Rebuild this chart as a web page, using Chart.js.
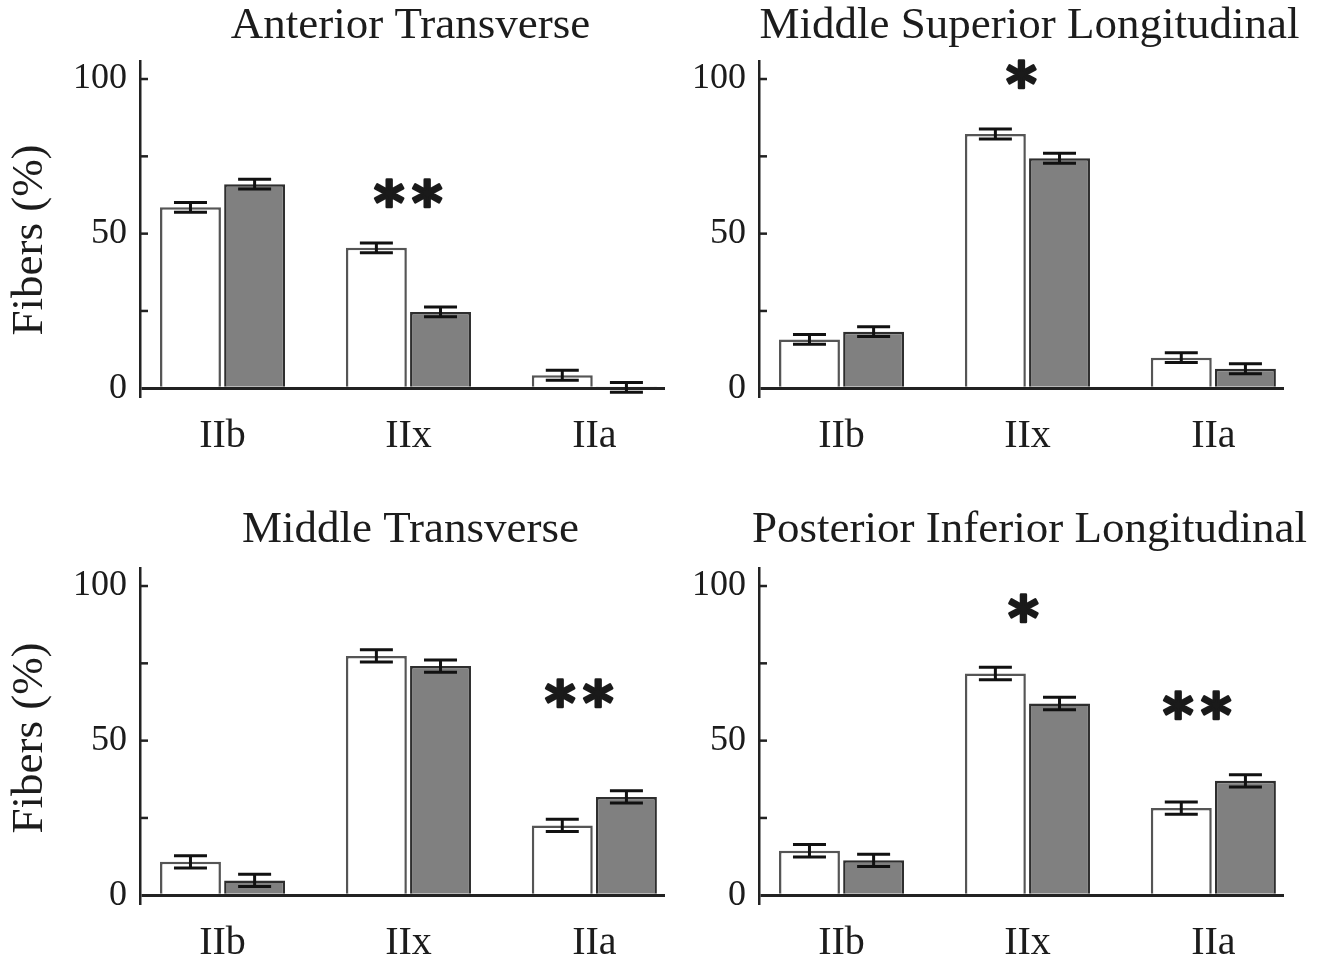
<!DOCTYPE html>
<html>
<head>
<meta charset="utf-8">
<script src="https://cdn.jsdelivr.net/npm/chart.js@4.4.1/dist/chart.umd.min.js"></script>
<style>
  html, body { margin: 0; padding: 0; background: #ffffff; width: 1331px; height: 956px; overflow: hidden; }
  #wrap { position: relative; width: 1331px; height: 956px; }
  canvas { position: absolute; }
</style>
</head>
<body>
<div id="wrap">
  <canvas id="p0" width="670" height="460"></canvas>
  <canvas id="p1" width="712" height="460"></canvas>
  <canvas id="p2" width="670" height="460"></canvas>
  <canvas id="p3" width="712" height="460"></canvas>
</div>
<script>
// ---------------- DATA ----------------
const categories = ['IIb', 'IIx', 'IIa'];
const panelTitles = ['Anterior Transverse', 'Middle Superior Longitudinal', 'Middle Transverse', 'Posterior Inferior Longitudinal'];
const yAxisTitle = 'Fibers (%)';
const yTickValues = [0, 25, 50, 75, 100];
const yTickLabels = ['0', '', '50', '', '100'];
const seriesNames = ['Group 1', 'Group 2'];

// white bars (first series)
const whiteAnteriorTransverse = [58.5, 45.4, 4.2];
const whiteMiddleSuperiorLong = [15.8, 82.2, 9.9];
const whiteMiddleTransverse = [10.8, 77.4, 22.6];
const whitePosteriorInferiorLong = [14.4, 71.7, 28.2];

// gray bars (second series)
const grayAnteriorTransverse = [66.0, 24.7, 0.3];
const grayMiddleSuperiorLong = [18.3, 74.4, 6.3];
const grayMiddleTransverse = [4.8, 74.1, 31.8];
const grayPosteriorInferiorLong = [11.3, 62.0, 37.0];

// error bar half-lengths
const whiteErrAnteriorTransverse = [1.6, 1.6, 1.6];
const grayErrAnteriorTransverse = [1.6, 1.6, 1.6];
const whiteErrMiddleSuperiorLong = [1.6, 1.6, 1.6];
const grayErrMiddleSuperiorLong = [1.6, 1.6, 1.6];
const whiteErrMiddleTransverse = [2.0, 2.0, 2.0];
const grayErrMiddleTransverse = [2.0, 2.0, 2.0];
const whiteErrPosteriorInferiorLong = [2.0, 2.0, 2.0];
const grayErrPosteriorInferiorLong = [2.0, 2.0, 2.0];

// significance marks: category position (1..3) and value height
const marksAnteriorTransverse = [{ x: 2.0, y: 63.0, text: '**' }];
const marksMiddleSuperiorLong = [{ x: 1.97, y: 101.5, text: '*' }];
const marksMiddleTransverse = [{ x: 2.92, y: 65.5, text: '**' }];
const marksPosteriorInferiorLong = [{ x: 1.98, y: 93.0, text: '*' }, { x: 2.915, y: 61.6, text: '**' }];

// ---------------- LAYOUT ----------------
const panels = [
  { title: panelTitles[0], white: whiteAnteriorTransverse, gray: grayAnteriorTransverse, wErr: whiteErrAnteriorTransverse, gErr: grayErrAnteriorTransverse, marks: marksAnteriorTransverse, left: 0, top: 0, padRight: 5, showYTitle: true, titleBase: 38, yTitleY: 240 },
  { title: panelTitles[1], white: whiteMiddleSuperiorLong, gray: grayMiddleSuperiorLong, wErr: whiteErrMiddleSuperiorLong, gErr: grayErrMiddleSuperiorLong, marks: marksMiddleSuperiorLong, left: 619, top: 0, padRight: 47, showYTitle: false, titleBase: 38, yTitleY: 240 },
  { title: panelTitles[2], white: whiteMiddleTransverse, gray: grayMiddleTransverse, wErr: whiteErrMiddleTransverse, gErr: grayErrMiddleTransverse, marks: marksMiddleTransverse, left: 0, top: 507, padRight: 5, showYTitle: true, titleBase: 35, yTitleY: 231 },
  { title: panelTitles[3], white: whitePosteriorInferiorLong, gray: grayPosteriorInferiorLong, wErr: whiteErrPosteriorInferiorLong, gErr: grayErrPosteriorInferiorLong, marks: marksPosteriorInferiorLong, left: 619, top: 507, padRight: 47, showYTitle: false, titleBase: 35, yTitleY: 231 }
];

const SERIF = '"Liberation Serif", "Times New Roman", serif';
const TEXT = '#1c1c1c';
const AXIS = '#222222';

const decorPlugin = {
  id: 'decor',
  afterDatasetsDraw(chart, args, opts) {
    const ctx = chart.ctx;
    const ys = chart.scales.y;
    ctx.save();
    ctx.strokeStyle = '#111111';
    ctx.lineWidth = 3;
    chart.data.datasets.forEach((ds, di) => {
      const meta = chart.getDatasetMeta(di);
      meta.data.forEach((bar, i) => {
        const v = ds.data[i].y;
        const e = ds.errors[i];
        const x = bar.x;
        const y1 = ys.getPixelForValue(v + e);
        const y2 = ys.getPixelForValue(v - e);
        const half = 16.5;
        ctx.beginPath();
        ctx.moveTo(x, y1); ctx.lineTo(x, y2);
        ctx.moveTo(x - half, y1); ctx.lineTo(x + half, y1);
        ctx.moveTo(x - half, y2); ctx.lineTo(x + half, y2);
        ctx.stroke();
      });
    });
    ctx.restore();
  },
  afterDraw(chart, args, opts) {
    const ctx = chart.ctx;
    const area = chart.chartArea;
    const xs = chart.scales.x, ys = chart.scales.y;
    ctx.save();
    // inward tick marks on y axis
    ctx.strokeStyle = AXIS;
    ctx.lineWidth = 2.5;
    ys.ticks.forEach(t => {
      if (t.value === 0) return;
      const py = ys.getPixelForValue(t.value);
      ctx.beginPath();
      ctx.moveTo(area.left, py);
      ctx.lineTo(area.left + 8, py);
      ctx.stroke();
    });
    // panel title
    ctx.fillStyle = TEXT;
    ctx.font = '45px ' + SERIF;
    ctx.textAlign = 'center';
    ctx.textBaseline = 'alphabetic';
    ctx.fillText(opts.title, (area.left + area.right) / 2 + 8, opts.titleBase);
    // y axis title
    if (opts.showYTitle) {
      ctx.save();
      ctx.translate(30, opts.yTitleY);
      ctx.rotate(-Math.PI / 2);
      ctx.font = '45px ' + SERIF;
      ctx.textAlign = 'center';
      ctx.textBaseline = 'middle';
      ctx.fillText(yAxisTitle, 0, 0);
      ctx.restore();
    }
    // significance asterisks (heavy)
    ctx.font = 'bold 58px "DejaVu Sans", sans-serif';
    ctx.textAlign = 'left';
    ctx.textBaseline = 'alphabetic';
    ctx.fillStyle = '#1a1a1a';
    ctx.strokeStyle = '#1a1a1a';
    ctx.lineWidth = 2.6;
    ctx.lineJoin = 'round';
    const pitch = 38;
    opts.marks.forEach(m => {
      const cx = xs.getPixelForValue(m.x);
      const cy = ys.getPixelForValue(m.y);
      const chars = m.text.split('');
      chars.forEach((ch, j) => {
        const mt = ctx.measureText(ch);
        const w = mt.actualBoundingBoxRight + mt.actualBoundingBoxLeft;
        const ccx = cx + (j - (chars.length - 1) / 2) * pitch;
        const px = ccx - w / 2 + mt.actualBoundingBoxLeft;
        const py = cy + (mt.actualBoundingBoxAscent - mt.actualBoundingBoxDescent) / 2;
        ctx.fillText(ch, px, py);
        ctx.strokeText(ch, px, py);
      });
    });
    ctx.restore();
  }
};

panels.forEach((p, k) => {
  const canvas = document.getElementById('p' + k);
  canvas.style.left = p.left + 'px';
  canvas.style.top = p.top + 'px';
  new Chart(canvas, {
    type: 'bar',
    data: {
      datasets: [
        {
          label: seriesNames[0],
          data: p.white.map((v, i) => ({ x: i + 1, y: v })),
          errors: p.wErr,
          backgroundColor: '#ffffff',
          borderColor: '#555555',
          borderWidth: 2.5,
          categoryPercentage: 0.69,
          barPercentage: 0.95
        },
        {
          label: seriesNames[1],
          data: p.gray.map((v, i) => ({ x: i + 1, y: v })),
          errors: p.gErr,
          backgroundColor: '#808080',
          borderColor: '#2e2e2e',
          borderWidth: 2.5,
          categoryPercentage: 0.69,
          barPercentage: 0.95
        }
      ]
    },
    options: {
      responsive: false,
      animation: false,
      devicePixelRatio: 1,
      layout: { padding: { top: 61.7, left: 0, right: p.padRight, bottom: 0 } },
      plugins: {
        legend: { display: false },
        tooltip: { enabled: false },
        decor: { title: p.title, titleBase: p.titleBase, showYTitle: p.showYTitle, yTitleY: p.yTitleY, marks: p.marks }
      },
      scales: {
        x: {
          type: 'linear',
          min: 0.556,
          max: 3.38,
          offset: false,
          bounds: 'data',
          afterBuildTicks: s => { s.ticks = categories.map((c, i) => ({ value: i + 1 })); },
          afterFit: s => { s.height = 64; },
          ticks: {
            autoSkip: false,
            maxRotation: 0,
            padding: 12,
            color: TEXT,
            font: { family: SERIF, size: 40, lineHeight: 1 },
            callback: v => categories[Math.round(v) - 1] || ''
          },
          grid: { display: false },
          border: { display: false }
        },
        y: {
          type: 'linear',
          min: -2.5,
          max: 105.6,
          bounds: 'data',
          afterBuildTicks: s => { s.ticks = yTickValues.map(v => ({ value: v })); },
          afterFit: s => { s.width = 140; },
          ticks: {
            padding: 13,
            color: TEXT,
            font: { family: SERIF, size: 36, lineHeight: 1 },
            callback: v => { const i = yTickValues.indexOf(v); return i >= 0 ? yTickLabels[i] : ''; }
          },
          grid: {
            drawTicks: false,
            lineWidth: 3,
            color: c => (c.tick && c.tick.value === 0) ? AXIS : 'rgba(0,0,0,0)'
          },
          border: { display: true, color: AXIS, width: 2.5 }
        }
      }
    },
    plugins: [decorPlugin]
  });
});
</script>
</body>
</html>
